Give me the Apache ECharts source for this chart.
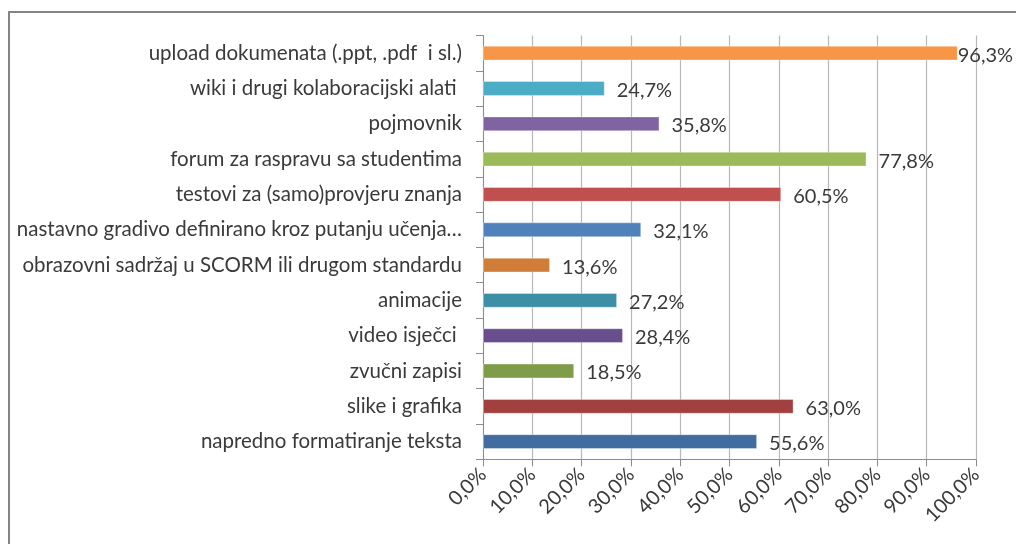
<!DOCTYPE html>
<html>
<head>
<meta charset="utf-8">
<script src="https://cdn.jsdelivr.net/npm/echarts@6/dist/echarts.min.js"></script>
<style>
  html, body { margin: 0; padding: 0; background: #ffffff; }
  #chart { width: 1016px; height: 544px; }
</style>
</head>
<body>
<div id="chart"></div>
<script>
// Categories, listed top to bottom
const categories = [
  'upload dokumenata (.ppt, .pdf  i sl.)',
  'wiki i drugi kolaboracijski alati ',
  'pojmovnik',
  'forum za raspravu sa studentima',
  'testovi za (samo)provjeru znanja',
  'nastavno gradivo definirano kroz putanju učenja…',
  'obrazovni sadržaj u SCORM ili drugom standardu',
  'animacije',
  'video isječci ',
  'zvučni zapisi',
  'slike i grafika',
  'napredno formatiranje teksta'
];

// Share of respondents (%) for each category
const values = [96.3, 24.7, 35.8, 77.8, 60.5, 32.1, 13.6, 27.2, 28.4, 18.5, 63.0, 55.6];

// Bar colours, one per category
const barColors = [
  '#F79646', '#4BACC6', '#8064A2', '#9BBB59', '#C0504D', '#4F81BD',
  '#CF7D39', '#3D8FA5', '#684E8C', '#7F9C48', '#A1403E', '#416CA0'
];

// Value axis tick labels (0 % .. 100 %, step 10)
const tickLabels = ['0,0%', '10,0%', '20,0%', '30,0%', '40,0%', '50,0%',
                    '60,0%', '70,0%', '80,0%', '90,0%', '100,0%'];

const FONT = 'Lato';
const TEXT = '#3a3a3a';

const fmtPct = v => v.toFixed(1).replace('.', ',') + '%';

const chart = echarts.init(document.getElementById('chart'), null, { renderer: 'canvas' });

const seriesData = values.map((v, i) => ({
  value: v,
  itemStyle: { color: barColors[i] },
  label: { distance: v > 90 ? 0 : 12 }
}));

chart.setOption({
  backgroundColor: '#ffffff',
  animation: false,
  textStyle: { fontFamily: FONT },
  graphic: [{
    type: 'rect',
    shape: { x: 9, y: 12, width: 1100, height: 600 },
    style: { fill: 'none', stroke: '#858585', lineWidth: 2 },
    silent: true,
    z: 100
  }],
  grid: { left: 483, right: 40, top: 35.5, bottom: 84.7, containLabel: false },
  xAxis: {
    type: 'value',
    min: 0,
    max: 100,
    interval: 10,
    axisLine: { show: true, lineStyle: { color: '#8c8c8c', width: 1 } },
    axisTick: { show: true, length: 7, lineStyle: { color: '#8c8c8c' } },
    splitLine: { show: true, lineStyle: { color: '#b8b8b8', width: 1.2 } },
    axisLabel: {
      rotate: 45,
      margin: 12,
      fontFamily: FONT,
      fontSize: 20,
      color: TEXT,
      formatter: v => tickLabels[Math.round(v / 10)]
    }
  },
  yAxis: {
    type: 'category',
    inverse: true,
    data: categories,
    axisLine: { show: true, lineStyle: { color: '#8c8c8c', width: 1 } },
    axisTick: { show: true, length: 7, lineStyle: { color: '#8c8c8c' } },
    axisLabel: {
      margin: 21,
      fontFamily: FONT,
      fontSize: 20.5,
      color: TEXT
    }
  },
  series: [{
    type: 'bar',
    data: seriesData,
    barWidth: '42%',
    itemStyle: { borderColor: 'rgba(255,255,255,0.35)', borderWidth: 1 },
    label: {
      show: true,
      position: 'right',
      offset: [0, 2],
      fontFamily: FONT,
      fontSize: 20,
      color: TEXT,
      formatter: p => fmtPct(p.value)
    }
  }]
});
</script>
</body>
</html>
